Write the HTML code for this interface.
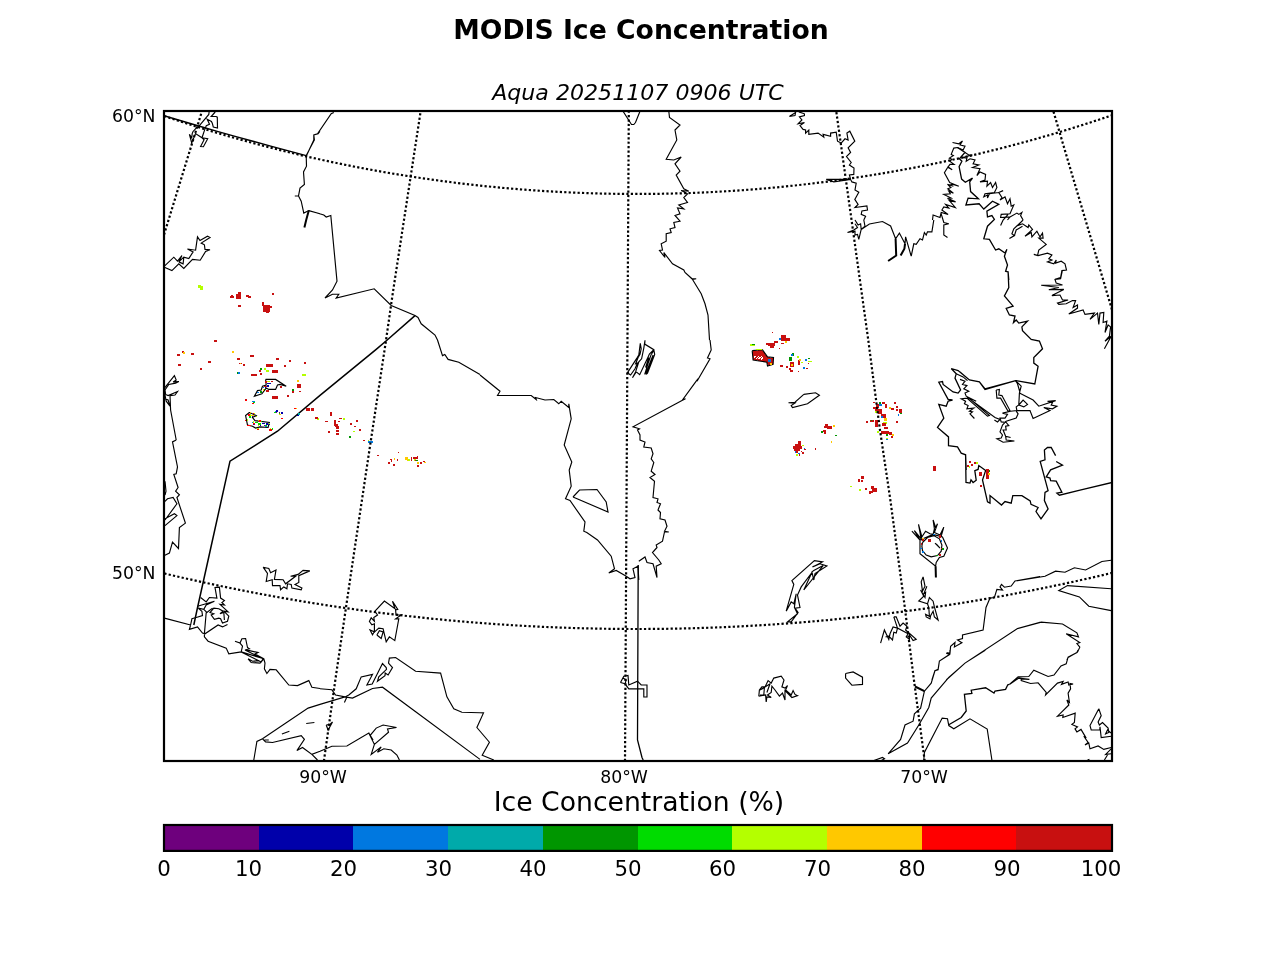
<!DOCTYPE html>
<html lang="en"><head><meta charset="utf-8"><title>MODIS Ice Concentration</title>
<style>
html,body{margin:0;padding:0;background:#fff;}
body{width:1280px;height:960px;overflow:hidden;font-family:"DejaVu Sans","Liberation Sans",sans-serif;}
svg{display:block;}
text{font-family:"DejaVu Sans","Liberation Sans",sans-serif;fill:#000;}
.c{fill:none;stroke:#000;stroke-width:1.15;stroke-linejoin:miter;stroke-linecap:butt;}
.b{fill:none;stroke:#000;stroke-width:1.5;stroke-linejoin:miter;stroke-linecap:butt;}
.q{fill:none;stroke:#000;stroke-width:1.3;stroke-linejoin:miter;stroke-linecap:butt;}
.k{fill:none;stroke:#000;stroke-width:2;stroke-linejoin:miter;stroke-linecap:butt;}
.g{fill:none;stroke:#000;stroke-width:2.2;stroke-dasharray:2.22 2.22;}
</style></head><body>
<svg width="1280" height="960" viewBox="0 0 1280 960">
<rect x="0" y="0" width="1280" height="960" fill="#fff"/>
<defs><clipPath id="ax"><rect x="164" y="111" width="948" height="650"/></clipPath></defs>
<g clip-path="url(#ax)">
<g shape-rendering="crispEdges">
<path fill="#c81010" d="M752.8,351 L762.2,350.1 L767.2,357.1 L773.1,357.9 L772.8,364.1 L767.8,365.6 L767.1,362 L753.4,359.8Z"/>
<path fill="none" stroke="#fff" stroke-width="1.2" d="M756.2,358.8 L759.4,355.6 M758.8,359 L761.9,356 M761,359.8 L763.1,357.5 M754.4,357.5 L755.6,356"/>
</g>
<path class="c" d="M209.1,112 L208.8,114.4 L198.8,126.3 L195.9,128.4 L192.9,131.7 L192.2,133.6 L191.7,137.8 L189.4,134.3 L191.7,143 L195.5,133.6 L202,137.8 L204.8,129.4 L206.3,125.6 L209.5,124.2 L207.2,119.3 L211.4,121.4 L212.3,123.3 L213.3,127 L217.5,128 L217.3,117.2 L216.1,116.5 L211.2,116.5 L215.2,112 M202,137.8 L207.7,138.8 L203.4,146.7 L200.6,146.5 L204.1,139.7 L202,137.8 M320,131.2 L318.1,133.8 L313.8,135 L314.4,140 L306.2,155.6 L306.5,166.2 L303.5,171.9 L304.4,184.4 L300,188.1 L298.5,196 L301.2,201.2 L303.8,213.1 L308.8,210.6 L320,213.8 M294.8,196 L298.5,196 M164.4,266.2 L173.8,257.2 L177.5,261.2 L181.9,255.6 L178.8,261.9 L183.8,257.2 L188.8,258.5 L193.1,251.9 L187.5,249 L195.6,250.2 L197.5,236.9 L200,240.6 L207.5,236.2 L210,237.5 L201.2,243.1 L204.4,244.8 L205,249.4 L210,249.8 L205.6,251.5 L200.2,260.2 L192.5,259.4 L183.8,268.5 L178.8,263.8 L171.9,270.6 L164.4,267.2 M178.8,261.9 L183.1,263.8 L183.8,257.5 M333.8,112.5 L331.2,113.8 L317.5,133.8 L313.8,135 L313.8,140 L306.2,156.2 M308.8,210.5 L323.8,215 L326.2,217 L330.8,215.5 L337,281.2 L332.5,290 L325,298 L332.5,294.2 L338.8,294.2 L336.2,298 L374.2,288.8 L391.2,305.5 L415,315.5 L418,317.5 L421.2,323.8 L435,335 L437.5,340 M668.8,111.2 L669.5,117.5 L680,125 L675,130 L676.8,140 L666.2,159.2 L673.8,160 L681.2,157 L675,163.8 L680,171.2 L676.2,175 L683.8,188.8 L688.8,191.2 L681.2,190.5 L687.5,193.8 L683.8,197.5 L687.5,202.5 L678.8,205 L683.8,208.8 L677.5,208 L680,213.8 L675,215.5 L680,221.2 L673.8,222.5 L675,227.5 L670,228.8 L671.2,232.5 L666.2,233.8 L666.2,241.2 L661.2,243.8 L662.5,250 L659.5,250.5 L665,257.5 L663.8,252.5 L672.5,263.8 L683.8,270 L685,272.5 L692,278.8 L696.2,278.8 L692.5,279.5 L701.2,293.8 L705,303.8 L708,315 L709.5,340 M623,111.2 L631.5,124.5 L633.8,124.5 L635.5,122.5 L640,111.2 M789.4,116.5 L795.6,112.5 L795,115.6 L789.4,116.5 M798.8,111.9 L804.4,113.8 L804.4,115.6 L799.4,116.9 L801.9,120 L798.1,123.8 L804.4,122.5 L800,125.6 L803.1,129.4 L805.6,130 L805.6,133.1 L808.8,130 L808.8,134.4 L818.1,133.1 L823.8,137.2 L823.1,134.4 L830.6,136.2 L830.6,133.1 L836.2,132.2 L837.5,141.2 L841.2,143.1 L845,138.8 L848.1,140 L846.9,133.1 L849.8,131.2 L854.8,141.2 L848.1,147.8 L850.6,152.5 L846.5,156.5 L851.2,162.5 L849.4,165 L854,168.1 L853.8,174.4 L849.4,175 L850.6,179.4 L851.9,181.9 L856.2,183.1 L855,190 L858.8,192.2 L854.8,199.4 L858.1,204.4 L855,207.5 L866.9,205.9 L867.5,210 L861.9,211 L861.2,214.4 L865.6,216.2 L863.8,220 M826.2,179.4 L833.8,181.9 L850.6,179.4 L826.2,179.4 M952.5,142.5 L958.8,143.8 L962.5,141 L960,145 L965,146.2 L963.1,150 L957.5,147.5 L953.8,148.1 L952.5,151.2 L951.2,154.4 L953.4,155.6 L949.4,158.1 L951.9,159.4 L949.7,161.2 L954.1,164.4 L950,164.4 L948.1,166.9 L952.2,169.7 L947.8,167.2 L944.4,172.8 L949.7,182.5 L958.8,186.2 L952.5,184.1 L950.3,185 L953.4,186.2 L947.5,184.4 L950.9,187.5 L947.8,188.8 L953.4,193.1 L948.8,191.2 L950.3,193.8 L943.8,194.4 L951.2,198.1 L947.5,198.4 L955.6,201.9 L949.4,200.6 L955.3,207.5 L945.6,204.4 L948.8,208.1 L943.8,206.9 L941.9,210 L948.1,214.4 L941.2,212.5 L940,217.5 L933.1,215 L932.5,220 M965,152.5 L968.8,155 L972.5,155 L962.5,157.5 L966.9,158.1 L966.2,161.2 L970,158.8 L975,160 L973.1,163.8 L978.8,165 L972.5,167.5 L980,168.8 L976.9,175.6 L980,171.9 L985.6,174.4 L985,180 L980,181.9 L987.5,181.2 L986.9,186.2 L990.6,182.5 L992.5,187.5 L995.6,182.5 L996.9,187.5 L994.4,192.5 L985,193.8 L983.8,196.9 L987.5,195 L987.5,198.1 L989.4,193.8 L998.8,192.5 L1003.1,190.6 L998.8,192.5 L1001.9,197.5 L1000,200 L1005,196.9 L1007.5,203.8 L1010,198.8 L1011.2,206.2 L1013.8,205 L1010,213.8 L1001.2,214.4 L1000.6,217.5 L1010,216.9 L1007.5,220 M1010,216.9 L1016.9,213.1 L1018.8,214.4 L1021.9,212.5 L1020.6,215.6 L1023.1,220 M863.8,220 L865,226.2 L861.2,229.4 L860.6,223.8 L858.1,225 L855,220 M861.2,229.4 L869.4,224 L882.5,221.5 L890.6,226 L895.6,238.8 L899.4,233.1 L905,243.8 L905.6,236.9 L911.2,256.2 L913.8,243.8 L916.2,244.4 L920,238.8 L922.5,240 L924.4,232.5 L926.2,235 L927.5,231.9 L931.9,231.9 L933.8,220 M861.2,229.4 L858.8,239.4 L857.5,234.4 L855,235 L855,231.2 L847.5,232.5 L853.8,230 L857.5,227.5 L855,223.8 M1023.1,220 L1017.5,225.6 L1022.5,223.8 L1028.1,227.5 L1028.8,225 L1032.5,229.4 L1025,236.2 L1031.2,232.5 L1031.9,236.9 L1036.9,231.2 L1040,236.9 L1042.5,233.1 L1043.1,238.1 L1038.8,238.1 L1046.2,244.4 L1038.8,250 L1037.5,255.6 L1033.8,254.4 L1038.1,255.6 L1047.5,253.1 L1051.9,255 L1048.8,258.8 L1051.9,260 L1047.5,261.9 L1053.8,263.8 L1056.2,260 L1055.6,263.1 L1061.2,261.2 L1065,263.8 L1066.5,270 L1061.9,270.6 L1060.6,277.5 L1055,279.4 M1020.6,222.5 L1013.8,228.8 L1011.9,233.8 L1014.4,235.6 L1009.4,238.5 L1014.4,235.6 L1016.2,230 L1022.5,226.2 M1008.1,214.4 L1003.1,220 L1000.6,225.6 M1062.5,270 L1060.6,278.8 L1055,279.4 L1056.2,283.1 L1062.5,285 L1041.2,285.2 L1058.8,287.5 L1048.8,289.8 L1063.8,289.4 L1051.9,295.6 L1060,295 L1062.5,300 L1068.1,300 L1057.5,303.1 L1058.8,304.4 L1066.2,303.8 L1072.5,300.6 L1075.6,300.6 L1073.1,307.5 L1077.5,305 L1077.5,308.1 L1068.8,314 L1083.1,310 L1085,314.4 L1094.4,313.1 L1090,319.4 L1097.5,313.1 L1098.8,324.4 L1100,313.1 L1103.8,312.5 L1103.1,322.5 L1106.9,321.2 L1105,332.5 L1108.1,325 L1110.6,326.9 L1109.4,336.2 L1105,341.2 L1111.2,336.2 L1104.4,348.8 M941.2,213.8 L943.8,222.5 L948.8,223.8 L943.8,225 L943.8,235 L947.5,237.5 M164.4,388.1 L174.4,375.6 L176.2,380 L173.1,381.9 L178.8,381.5 L175.6,383.1 L168.8,384.4 L165,390 L165.6,394.4 L168.1,395.6 L177.5,391.5 L175,395 L170,395.6 L170.6,410 L176.2,440 M165,395 L166.2,401.2 L170,406.2 L168.1,400 L165,398.8 M265.6,379.4 L275.6,379.4 L286.2,386.2 L280,384.4 L277.5,385 L275.6,389.4 L268.8,389.4 L266.2,388.1 L261.9,393.8 L254.4,396.2 L257.5,390.6 L261.2,390 L262.5,386.2 L266.2,385 L265.6,379.4 M249.4,412.5 L256.2,415.6 L252.5,417.5 L255,420.6 L269.4,422.5 L268.1,427.5 L260,426.9 L255.6,428.1 L252.5,426.2 L247.5,425 L245.6,415.6 L249.4,412.5 M437.5,340 L442.5,355.6 L444.8,354.4 L448.1,359.4 L458.8,362.2 L480,374.4 M480,375 L500,391.2 L497.5,395.5 L531.2,395.5 L536.2,399.5 L535.5,397.5 L545,400 L553.8,399.5 L558.8,403.8 L561.2,401.2 L568.8,407.5 L568.8,403.8 L571.2,418.8 L564.2,445 L571.8,462 L569.2,470 L571.2,486.2 L565.5,498.8 L570,500.5 L585,522 L583.8,531.2 L586.8,532.5 L597.5,540 L611.2,556.2 L614.5,568.8 L608.8,573 L616.2,570.5 L625,575.5 L630,578.8 L635,577.5 L633,568.8 L638,566.2 L638.8,580 M638.8,561.2 L645,557 L647,562.5 L653,563.8 L657,577.5 L656.2,566.2 L661.2,563.8 L658.8,560 L652.5,552.5 L657,547.5 L656.2,545 L662.5,541.2 L664.5,532 L668.8,532 L664.5,531.2 L667,526.2 L665,520 L660,518.8 L660.5,512.5 L658,510 L660.5,503.8 L657,502.5 L658,498.8 L653,497.5 L654.5,481.2 L650,477.5 L655,474.5 L651.2,471.2 L653.8,462.5 L651.2,458.8 L653,453.8 L651.2,448 L643.8,447 L645,442 L640,440 L640,435 L637.5,430 L639.5,428.8 L633,426.8 L682,400.5 L685.5,398.8 L682.5,400 L696.2,381.2 L698,378.8 L697,381.2 L710,358.8 L707.5,358 L711.2,350 L710,340 M573,497 L579.5,490 L597,489.5 L606.2,502 L608,512 L573,497 M627.2,373.1 L636.9,358.1 L638.8,355 L640.3,343.4 L641.2,348.8 L640,354.4 L638.1,357.5 L635.6,363.8 L637.5,363.1 L635,368.8 L630.6,375 L628.8,373.8 L628.1,371.9 L627.2,373.1 M645,340.3 L644.7,344.1 L653.8,349.7 L649.4,354.1 L648.1,356.9 L639.7,374.7 L636.2,371.9 L632.5,377.8 L635.6,371.9 L638.8,361.9 L641.6,358.8 L643.8,348.1 L645,340.3 M653.8,349.7 L654.7,354.4 L647.5,373.1 L646.2,374.4 L650,365 L653.1,355 L650.6,361.2 L646.9,370.6 L644.7,374.4 L648.8,361.2 L651.2,354.4 L653.8,350.6 M648.8,357.5 L645.6,367.5 L647.5,365 L650,358.1 M752.2,350.6 L762.5,349.8 L767.5,356.9 L773.5,357.5 L773.1,364.4 L767.5,366 L766.9,362.2 L753.1,360 L752.2,350.6 M803.8,394.4 L815.6,392.8 L819.4,395.2 L807.5,403.8 L792.5,407.5 L791.2,405.6 L795,403.1 L788.5,402.8 L795,402.2 L803.8,394.4 M956.2,373.8 L963.1,376.9 L967.5,380.6 M960,379.4 L965,381.2 L962.5,384.4 L966.9,385.6 L963.8,388.8 L968.8,391.2 L965,393.1 L966.2,396.2 L976.2,401.2 L967.5,396.9 L989.4,415.6 L987.5,416.2 L966.9,398.1 L961.2,398.8 L965.6,401.2 L964.4,403.8 L968.1,405.6 L966.9,408.8 L973.8,408.1 L969.4,411.2 L972.5,411.9 L970,413.8 L974.4,418.5 M966.9,396.9 L995,417.5 L1000,419.4 L997.5,421.9 L994.4,420 M996.2,390 L999.4,389.4 L998.8,395 L1001.9,395.6 L1010,410.6 L1008.1,411.2 L1000.6,398.1 L996.9,398.1 L996.2,390 M1015.6,380.6 L1021.2,386.2 L1019.4,393.1 L1018.8,405 L1016.2,406.9 L1016.9,410.6 L1010.6,411.2 L1002.5,413.1 L1007.5,414.4 L1005,418.1 L1000,418.1 L1001.2,421.9 L1006.2,422.5 L1008.8,425.6 L1005.6,426.2 L1006.2,430 L1003.1,430 L1005.6,436.2 L1010.6,437.5 L1005.6,436.2 L1006.2,440 L1014.4,441 L1003.1,442.2 L996.9,438.8 L1001.2,438.1 L1002.5,435 L1000,431.9 L1002.5,425 L1006.2,421.2 L1016.2,418.1 L1018.1,413.8 L1016.2,411.2 M1019.4,393.1 L1033.1,400 L1038.8,406.2 L1055.6,400.6 L1047.5,401.2 L1052.5,402.5 L1051.2,405 L1056.9,406.2 L1052.5,408.8 L1043.8,407.5 L1050,410.6 L1033.1,418.5 L1030,410.6 L1016.9,410.6 M1018.8,405 L1023.1,400.2 L1027.5,404.4 L1023.8,406.9 L1018.8,405 M1015.6,380.6 L1017.5,383.8 L1020,392.5 M920,540 L933.1,534.4 L942.5,536.9 L947.5,548.1 L943.8,556.2 L939.4,557.5 L936.2,562.5 L935.6,566.2 L920,553.8 L920,540 M922.5,542.5 L927.5,537.5 L933.8,535.6 L939.4,538.8 L941.9,545 L941.2,551.2 L937.5,555.6 L931.2,556.9 L926.2,555 L922.5,550.6 L921.9,546.2 L922.5,542.5 M911.9,531.2 L920,540 L914.4,530.6 L921.2,538.8 L918.5,524.4 L921.9,536.9 L925.6,531.2 L930,533.8 L933.1,534.4 L934.4,528.8 L933.1,520 L935.6,527.5 L937.5,523.8 L934.4,532.5 L940,535 L943.8,527.2 L941.2,536.2 M935,543.1 L940,548.1 L936.2,543.8 M176.2,440 L172.5,441.9 L177.5,466.9 L176.2,473.8 L173.8,474.4 L178.1,487.5 L175.6,491.2 L179.4,494.8 L176.9,497.5 L185.4,523.1 L179.4,527.5 L178.5,548.5 L172.5,542.2 L169.4,553.1 L164.4,555.6 M164.4,501.9 L167.5,498.8 L173.1,497.5 L176.9,503.8 L165,520 M165,518.8 L174.4,513.8 L176.9,515.6 L165,525.6 M165,481.2 L166,491.2 L165,495 M164.4,618.1 L190.6,625 M190.6,625 L189.4,629.4 L197.5,626.9 L202.5,633.1 L205,633.8 L218.1,625 L222.5,626.9 L227.5,624.4 M204.4,633.8 L204.4,636.9 L208.1,641.2 L226.2,648.1 L228.8,653.8 L241.2,651.9 M200.6,597.5 L206.2,601.9 L209.4,597.5 L216.9,598.1 L215,587.5 L219.4,587.2 L220.6,598.1 L224.4,600.6 L221.9,602.5 L224.4,605 L220,604.4 L228.1,611.9 L223.8,611.2 L228.8,616.2 L227.5,621.2 L222.5,623.1 L220.6,618.8 L218.8,618.1 L214.4,619.4 L211.2,615 L213.8,613.8 L210,612.5 L213.8,608.1 L218.8,608.8 L223.1,611.2 L220,613.8 L223.8,612.5 L224.4,620 M197.5,606.2 L214.4,601.2 L206.2,605 L203.8,609.4 L198.1,608.1 L201.9,611.2 L202.5,615.6 L196.2,617.5 L191.9,618.8 L190.6,625 M206.2,612.5 L204.4,633.8 M203.8,609.4 L206.9,612.5 L212.5,608.1 M263.1,567.2 L268.8,568.5 L270.6,572.8 L276,570 L274.4,579.4 L283.1,579.8 L285.6,583.8 L295.6,576.2 L290.6,576.2 L298.1,574.4 L303.1,570.4 L309.8,570.9 L298.8,575.6 L298.8,582.5 L295,584.4 L301.9,588.1 L301.2,589.8 L291.9,588.1 L291.2,584.4 L287.5,583.8 L286.9,588.8 L283.8,586.9 L280.6,589.8 L280,585.6 L272.5,585.6 L272.2,579.8 L266.2,581.5 L267.5,573.5 L263.1,567.2 M235,641.2 L240,643.1 L241.9,638.8 L245.6,638.5 L247.5,647.5 L249.4,648.8 L245,650 L249.4,650.6 L258.1,652.5 L255,654 L263.8,658.8 M240,643.1 L242.5,646.2 L241.2,651.9 M241.2,651.9 L263.8,658.8 L265,663.1 L264.4,668.8 L266.9,673.5 L270,669.4 L276.2,669.8 L288.8,685 L297.5,685.6 L308.8,680.6 L311.9,687.2 L320,688.5 M241.2,651.9 L261.2,661.9 L263.1,658.8 L245,650 M263.8,658.8 L260,663.1 L251.2,662.5 L248.1,658.8 L252.5,661.2 L258.8,660.6 M253.8,760 L256.9,741.5 L262.5,738.8 L308.1,708.1 L320,704.4 M262.5,738.8 L265.6,741.9 L272.5,742.5 L301.2,735.6 L304.4,739.4 L296.9,750.6 L302.5,747.5 L311.9,754.4 L320,751.2 M311.9,754.4 L317.5,760 M281.9,734 L289.4,731.2 M306.2,723.5 L314.4,722.5 M264.4,740 L268.8,740 M375,611.2 L384.4,601 L395,608.8 L392.5,601.2 L397.8,609.4 L395.6,610 L396,615 L401.2,615 L395.6,618.8 L398.8,618.8 L394.8,640.6 L389.4,636.9 L386.2,641.9 L383.1,628.8 L378.8,628.1 L373.8,632.5 L372.5,634.8 L370,630 L374.4,631.9 L374.4,623.8 L371.9,624.8 L369.4,621.5 L371.2,617.8 L374.4,621.2 L373.8,617.5 L377.5,615 L375,611.2 M376.9,635 L379.4,630.6 L383.1,631.9 L381.2,638.5 L376.9,635 M320,688.8 L331.9,689.8 L335.6,695 L345,696.9 L348.8,695 L356.2,688.8 L361.2,676.9 L372.5,674.4 L366.9,685 L372.2,684 L382.5,663.5 L386.2,667.5 L386.5,669.4 L378.8,676.9 L377.5,681.2 L385,675.6 L385.2,673.1 L388.1,675 L392.5,667.5 L388.5,663.1 L389.4,658.1 L395.6,657.5 L415.6,671.2 L440.6,673.1 L446.9,696.9 L453.8,708.8 L461.9,712.2 L480,712.8 M320,704.4 L345,696.9 L352.5,698.1 L372.5,688.5 L382.5,687.2 L480,759.4 M346.9,696.9 L344.4,702.5 M326.2,725 L330,724.4 L332.5,721.9 L328.1,730 L326.2,725 M320,751.2 L331.9,746.2 L346.9,746 L368.8,733.1 L374.4,744.4 L388.5,732.2 L387.5,729 L396.5,727.5 L383.1,725 L376.2,728.1 L370,735.6 L373.1,740 L368.8,733.1 M374.4,744.4 L371.2,754.4 L381.2,746.9 L377.5,752.2 L383.8,748.8 L391.2,750 L396.9,755 L399.4,760 M620.5,682.5 L623.8,676.2 L628,675.5 L628.8,685 L637.5,681.2 L641.2,685 L647,685 L647,697 L643.8,697 L643.8,688.8 L628.8,688.8 L625,683.8 L620.5,682.5 M623,678 L626.2,680 L625,683.8 M480,712.8 L483.5,712.9 L476.9,727.5 L489.4,742.2 L482.2,755.2 L493.8,760 M758.8,696.2 L759.4,690 L761.9,686.9 L765,686.9 L768.1,680.6 L771.2,683.1 L773.8,678.1 L781.2,676.2 L784,680 L781.9,686.9 L785,688.1 L787.5,685.6 L785.6,690 L791.2,695 L793.1,690.6 L795,694.4 L797.5,695.6 L791.9,697.5 L785,690.6 L785,700 L782.5,693.1 L779.4,696.2 L775,690 L771.9,686.2 L771.2,692.5 L767.5,695 L771.2,697.5 L766.9,696.9 L766.2,701.9 L765.6,695 L758.8,696.2 M760,690 L764.4,687.5 L763.8,695 L760,695 M765,686.9 L770,683.8 L766.9,692.5 M845.6,673.5 L853.1,671.9 L862.5,677.2 L862.5,684.4 L851.9,685.2 L845.6,678.1 L845.6,673.5 M786.2,611.2 L793.8,584.4 L791.9,580.6 L814.4,560.6 L822.5,561.9 L812.5,566.9 L820,563.8 L826.9,566 L815,573.5 L813.8,580 L811.9,571.9 L813.8,570.6 L823.1,565.6 L803.8,590 L811.9,572.5 L801.2,586.9 L797.5,595 L800,607.5 L795,608.1 L798.1,612.5 L791.2,621.9 L787.5,621.9 L797.5,613.8 L794.4,607.5 L796.2,593.8 L793.8,603.8 L791.2,601.9 L786.2,611.2 M923.1,576.9 L921.2,581.9 L922.5,591.2 L925,586.2 L923.1,576.9 M926.9,586.2 L923.8,593.8 L925.6,592.5 L925,597.5 L920.6,590 L923.8,596.2 L918.8,601 L927.5,603.8 L929.4,597.5 L933.1,601.2 L934.4,606.9 L938.1,620 L934.4,616.9 L933.1,611.2 L930.6,615.6 L930,618.8 L926.2,616.9 L925.6,614.4 L929.4,616.2 L928.8,607.5 L927.5,603.8 M880.6,643.1 L884.4,630 L888.8,639.4 L890,633.8 L893.1,626.9 L897.5,628.1 L896.2,633.1 L893.8,632.2 L892.5,640 L888.8,636.2 L885.6,636.9 M893.8,616.9 L896.2,616.9 L900,626.2 L903.1,623.1 L906.9,626.2 L905.6,630 L916.2,639.4 L913.1,640.6 L909.4,635 L909.4,639.4 L906.2,636.9 L908.1,633.8 L897.5,628.1 L893.8,616.9 M931.9,680 L935,670.6 L938.1,669.8 L939.4,661 L949.4,654.4 L946.9,652.8 L950,653.1 L950.6,646.2 L955,642.5 L954.4,646.9 L961.9,642.8 L957.5,640 L962.5,638.5 L962.5,635 L983.1,630 L986,607.5 L990,598.1 L994.4,597.5 L996.9,589.4 L1002.5,590 L1000,586.9 L1001.5,584.4 L1004.4,587.2 L1011.2,586 L1015,581 L1040,576.5 M946.2,680 L965,663.1 L1017.5,628.5 L1040,622.2 M1015,581 L1045,576.2 L1055.6,571.2 L1065,572.2 L1074.4,567.8 L1085.6,570 L1101.9,561.5 L1111.2,560.2 M1111.2,588.8 L1067.5,585.6 L1058.8,590.6 L1079.4,596.9 L1088.8,606.2 L1111.2,610.6 M1018.1,628.5 L1041.2,622.2 L1062.5,624 L1076.9,632.8 L1078.5,636.9 L1066.2,633.8 L1079.8,642.5 L1076.9,643.5 L1079.8,647.2 L1077.5,652.2 L1068.1,657.5 L1066.9,660 M950,650 L949.8,654.4 L939.4,661 L938.1,669.4 L935,670.6 L931.2,683.1 L924.4,691.2 L920.6,708.1 L914.4,713.8 L913.1,721.2 L905,725 L900.6,739.4 L888.1,753.8 M946.2,653.1 L949.8,654.4 M985.6,650 L965,663.1 L948.8,677.5 L931.2,698.1 L928.8,707.5 L918.8,725 L907.5,743.1 L888.1,753.8 M923.8,760 L924.4,752.5 L942.2,718.1 L947.5,718.8 L948.8,725.6 L953.8,728.8 L970,718.8 L987.2,729 L991.9,760 M1078.1,650 L1076.9,652.5 L1068.1,657.2 L1066.2,663.8 L1061,666 L1054,675 L1048.1,676.5 L1033.8,670.2 L1028.8,676.5 L1018.1,676.9 L1009.4,684.4 M1009.4,684.4 L1018.8,678.1 L1029.4,679.4 L1021.2,679 L1021.2,680.6 L1030.6,683.5 L1038.1,682.8 L1046.2,692.5 L1045.6,695 L1057.5,683.1 L1063.1,681.5 L1061.5,684.4 L1068.1,681.9 L1068.8,685 L1073.1,684 L1070,683.5 L1070.6,688.8 L1068.1,693.1 L1069.4,702.5 L1066.9,700 L1068.8,705 L1057.5,716.2 L1063.1,715 L1062.8,717.5 L1075.2,713.1 L1074.4,722.5 L1071.9,724.4 L1077.5,726.9 L1075,728.8 L1076.9,731.9 L1081,729.4 L1086.2,738.1 L1083.8,736.2 L1088.1,742.5 L1085,745 L1088.8,743.1 L1090,748.8 L1098.1,746 L1103.8,749.4 L1111.2,747.5 M1098.8,708.8 L1101.2,715.6 L1098.1,721.9 L1099.4,725 L1102.5,722.5 L1108.1,728.1 L1108.8,732.5 L1105.6,733.8 L1107.5,730 L1111.2,733.1 M1098.8,708.8 L1090,725.6 L1091.2,730 L1099.8,730 L1100,726.9 L1101.2,737.5 L1111.2,736.2 M1111.2,748.8 L1105.6,754.4 L1111.2,753.8 M1107.5,755 L1104.4,760 M1087.5,760 L1089.4,759.4 M872.5,761 L882.5,757.5 L884.5,758.8 L880.5,761"/>
<path class="b" d="M164,115.6 L181.8,121 L199.6,126.2 L217.3,131.4 L235.1,136.4 L252.9,141.3 L270.7,146.1 L288.5,150.9 L306.2,155.6 M415,315.6 L387.2,340 L376.2,349.4 L320,395.4 L277.5,431.2 L230,461.2 L208.1,560 L197,610 L193.8,625"/>
<path class="q" d="M957.5,147.5 L965,152.5 L959.4,158.8 L961.9,161.2 L959.1,166.6 L961.6,179.1 L965.3,182.2 L972.5,178.1 L969.7,181.9 L970.6,191.6 L978.4,198.8 L968.1,198.1 L965.9,205 L979.1,203.8 L983.8,209.1 L992.5,201.2 L998.8,204.4 L986.9,211.2 L987.5,216.9 L991.9,215.6 L994.4,219.4 L987.5,226.2 L983.8,238.8 L989.4,239.4 L995.6,250 L998.8,248.8 L1005,253.1 L1006.9,249.4 L1004.4,256.2 L1007.5,265 L1005.6,271.2 L1008.1,271.9 L1008.8,280 M1008.1,271.9 L1008.8,287.5 L1004.4,296 L1013.1,306.2 L1006.2,308.5 L1009.4,315 L1015,316 L1013.5,322.5 L1016.2,320 L1018.8,323.1 L1027.5,321.2 L1021.9,326.9 L1022.5,330.6 L1031.2,339.4 L1039.4,341 L1042.5,348.8 L1033.8,357.5 L1033.8,363.1 L1038.1,366.2 L1034.8,384 L1015.6,380.6 L985,388.8 L979.4,381.9 L969.4,380 L960,371.9 M951.2,368.5 L956.2,373.8 L955,378.1 L960.6,390 L958.1,393.1 L953.1,391.9 L943.1,384.4 L942.5,381.5 L938.8,382.2 L948.1,399.4 L952.5,400 L948.1,401.2 L946.2,406.2 L938.8,404.4 L943.8,418.1 L937.5,427.5 L948.5,436.9 L948.5,445.6 L957.5,446.9 L961.2,453.1 L965.6,454.8 L966.2,470 M951.2,368.5 L958.1,370.6 L969.4,380 L979.4,381.9 L985,389.4 L1015.6,380.6 L1035,383.8 M948.5,440 L948.5,445.6 L957.5,446.9 L961.2,453.1 L965.6,454.8 L966,482.5 L970,483.1 L971,479.8 L973.1,482.5 L976.2,480.2 L974.8,470.6 L978.1,469.4 L978.8,465.6 L985.6,470.6 L982.5,480 L987.5,501.9 L990,503.1 L990,495.6 L1001.5,505 L1005,501.5 L1011.2,503.1 L1012.8,495.6 L1021.9,495.6 L1030.2,501 L1031,504.4 L1038.1,507.5 L1036,511.5 L1041,518.8 L1048.1,509 L1044.4,500.6 L1045,492.5 L1048.1,490.6 L1040.2,461.5 L1045,459.8 L1044.4,450 L1047.5,447.5 L1051.2,447.5 L1055.6,455.6 M1056.2,461.5 L1062.5,465.2 L1050.6,469.8 L1046.2,476.9 L1050,478.1 L1050.6,480.6 L1056.2,481.2 L1061.9,492.2 L1056.9,493.1 L1059.4,495.2 L1080,490.2 M638.2,565 L637.5,740 L642,757.5 L643.2,760 M948.8,724.8 L961.2,717.5 L966.2,711 L964.4,694.4 L971.9,693.5 L971.2,690.2 L985.6,687.8 L994,693.1 L995,691 L1005.6,689.4 L1007.8,684.8 L1009.4,684.4 M1080,490.2 L1113,482.3"/>
<path class="k" d="M308.8,210.6 L306.2,220 M306.2,220 L304.4,227.5 M895.6,238.8 L896.2,255.6 L888.1,261 M905,243.8 L904.4,248.8 L900.6,255.6 M935.6,566.2 L935.9,577.5 M924.4,691.2 L915,686.5"/>
<g shape-rendering="crispEdges">
<path fill="#b4ff00" d="M198,285h3v3h-3z M200,286h3v4h-3z M264,368h2v2h-2z M266,370h3v2h-3z M302,374h4v2h-4z M317,418h2v2h-2z M353,431h2v1h-2z M343,418h2v2h-2z M750,344h5v2h-5z M797,356h2v2h-2z M801,362h2v1h-2z M808,361h4v1h-4z M756,349h6v1h-6z M969,466h1v2h-1z M976,462h2v2h-2z M875,411h3v2h-3z M883,422h4v2h-4z M850,486h2v1h-2z M859,489h2v2h-2z M877,431h2v2h-2z M886,438h2v1h-2z M408,459h2v2h-2z M414,459h2v2h-2z M368,440h1v2h-1z M802,445h2v1h-2z M796,454h2v2h-2z M268,381h2v1h-2z M268,391h1v1h-1z M263,389h1v1h-1z M250,414h1v2h-1z M254,413h1v1h-1z M247,419h1v2h-1z M256,416h1v1h-1z M257,428h2v1h-2z M270,428h1v1h-1z M253,421h1v2h-1z M269,423h1v1h-1z"/>
<path fill="#c81010" d="M230,296h4v2h-4z M231,295h2v1h-2z M236,294h5v5h-5z M238,292h3v2h-3z M246,295h3v2h-3z M248,296h3v2h-3z M272,293h2v2h-2z M238,305h3v2h-3z M262,302h2v4h-2z M263,305h7v7h-7z M265,306h7v2h-7z M266,311h3v2h-3z M214,340h3v2h-3z M177,354h3v2h-3z M182,351h2v2h-2z M191,353h3v2h-3z M178,364h3v2h-3z M208,361h3v2h-3z M200,368h2v2h-2z M237,358h3v2h-3z M250,355h4v2h-4z M239,363h3v1h-3z M243,364h2v2h-2z M276,358h3v2h-3z M289,360h2v2h-2z M284,365h2v2h-2z M304,362h2v2h-2z M266,364h7v3h-7z M259,370h2v2h-2z M260,373h2v2h-2z M272,370h6v3h-6z M251,374h6v2h-6z M297,384h4v4h-4z M280,386h2v2h-2z M292,391h2v2h-2z M299,391h2v1h-2z M287,395h2v2h-2z M272,396h6v3h-6z M266,390h3v2h-3z M245,399h2v2h-2z M306,408h4v3h-4z M311,408h3v3h-3z M315,417h3v2h-3z M330,412h2v4h-2z M325,421h3v1h-3z M334,420h2v6h-2z M335,424h3v3h-3z M336,426h3v3h-3z M339,418h3v1h-3z M338,421h2v1h-2z M350,423h2v2h-2z M354,426h2v1h-2z M356,420h2v2h-2z M359,429h2v2h-2z M328,431h2v2h-2z M336,430h3v2h-3z M336,433h3v2h-3z M363,440h2v1h-2z M377,455h2v1h-2z M398,452h1v1h-1z M390,459h2v1h-2z M413,457h5v2h-5z M781,335h5v6h-5z M785,338h5v3h-5z M768,343h7v3h-7z M770,346h4v2h-4z M774,341h4v2h-4z M781,343h3v1h-3z M772,332h1v1h-1z M779,348h1v1h-1z M780,365h3v2h-3z M786,366h2v2h-2z M790,362h4v5h-4z M789,368h2v2h-2z M790,370h3v2h-3z M798,360h2v5h-2z M798,371h1v1h-1z M808,363h1v1h-1z M806,368h2v1h-2z M766,343h2v2h-2z M826,424h2v2h-2z M824,426h2v2h-2z M826,426h6v2h-6z M829,428h2v1h-2z M866,421h2v1h-2z M875,420h3v7h-3z M933,466h3v5h-3z M969,461h2v2h-2z M971,464h2v2h-2z M974,462h2v2h-2z M979,472h3v4h-3z M986,469h3v10h-3z M980,485h2v2h-2z M967,465h2v2h-2z M873,402h2v1h-2z M876,404h3v4h-3z M873,407h3v2h-3z M875,409h7v2h-7z M878,411h4v3h-4z M881,414h5v4h-5z M882,402h3v2h-3z M885,404h2v4h-2z M891,408h3v2h-3z M894,402h2v2h-2z M896,406h2v2h-2z M896,409h2v2h-2z M899,409h3v4h-3z M875,420h3v7h-3z M870,420h4v2h-4z M866,421h2v2h-2z M896,421h2v2h-2z M882,423h4v3h-4z M884,427h4v2h-4z M881,431h8v3h-8z M889,432h3v3h-3z M891,436h2v2h-2z M825,424h3v2h-3z M827,426h5v3h-5z M823,430h3v2h-3z M824,432h2v2h-2z M815,448h1v2h-1z M933,466h3v5h-3z M858,479h2v3h-2z M861,476h3v3h-3z M861,480h2v2h-2z M865,488h2v2h-2z M871,486h3v3h-3z M872,488h5v4h-5z M869,491h4v2h-4z M869,492h2v2h-2z M922,539h2v2h-2z M928,539h3v3h-3z M939,535h2v3h-2z M939,554h2v2h-2z M941,548h2v1h-2z M921,543h1v2h-1z M980,485h2v2h-2z M391,460h1v2h-1z M388,462h2v2h-2z M393,464h2v2h-2z M417,465h2v2h-2z M420,462h2v2h-2z M423,461h2v1h-2z M415,460h3v1h-3z M411,457h1v4h-1z M417,456h1v2h-1z M397,459h1v2h-1z M798,441h3v3h-3z M795,444h6v2h-6z M793,446h9v3h-9z M794,449h6v2h-6z M796,451h2v2h-2z M801,451h1v1h-1z M802,452h2v2h-2z M799,453h1v3h-1z M804,449h2v1h-2z M815,448h1v2h-1z M265,381h2v2h-2z M264,386h3v1h-3z M266,390h2v2h-2z M271,381h2v1h-2z"/>
<path fill="#ffc800" d="M232,351h2v2h-2z M183,352h2v2h-2z M297,380h2v2h-2z M240,363h1v1h-1z M405,457h3v3h-3z M791,364h2v2h-2z M785,341h2v2h-2z M799,359h2v2h-2z M770,363h2v2h-2z M988,473h2v2h-2z M833,425h2v2h-2z M831,441h1v2h-1z M884,418h3v3h-3z M892,434h2v2h-2z M889,407h2v2h-2z M922,538h2v1h-2z M417,462h2v2h-2z M424,462h2v1h-2z M407,459h1v2h-1z M394,458h1v2h-1z M267,381h1v1h-1z M263,389h1v2h-1z M250,412h1v1h-1z M251,415h3v1h-3z M258,420h1v1h-1z M258,425h1v1h-1z M279,414h2v1h-2z M296,408h1v1h-1z"/>
<path fill="#009600" d="M260,368h2v2h-2z M237,372h2v2h-2z M292,389h2v2h-2z M349,436h2v2h-2z M789,357h3v4h-3z M792,353h2v3h-2z M808,358h2v1h-2z M752,344h3v1h-3z M989,470h1v2h-1z M879,402h2v2h-2z M821,431h2v2h-2z M835,435h2v1h-2z M900,413h2v1h-2z M886,434h2v2h-2z M871,420h1v1h-1z M942,548h2v2h-2z M936,555h2v1h-2z M416,460h2v1h-2z M368,441h2v1h-2z M260,391h2v2h-2z M264,389h1v1h-1z"/>
<path fill="#0078e0" d="M238,372h2v2h-2z M368,441h5v2h-5z M791,354h2v2h-2z M805,359h2v2h-2z M803,367h2v2h-2z M768,359h3v3h-3z M779,338h2v2h-2z M879,404h3v2h-3z M881,416h2v2h-2z M898,414h1v2h-1z M886,439h2v1h-2z M920,548h2v1h-2z M933,534h2v1h-2z M941,540h1v2h-1z M922,551h2v2h-2z M804,448h1v1h-1z M795,451h1v2h-1z M798,453h2v1h-2z M263,387h1v1h-1z M257,392h2v1h-2z M252,401h3v1h-3z M249,417h2v1h-2z M252,422h1v1h-1z M265,426h2v1h-2z M275,411h1v1h-1z"/>
<path fill="#0000aa" d="M267,383h4v1h-4z M267,385h2v2h-2z M265,387h1v1h-1z M252,416h1v1h-1z M262,423h3v1h-3z M266,423h2v2h-2z M260,425h1v1h-1z M276,410h2v2h-2z M281,412h2v2h-2z M269,424h1v1h-1z M297,415h2v1h-2z"/>
<path fill="#ff0000" d="M248,414h2v2h-2z M253,413h1v1h-1z M259,420h2v2h-2z M245,420h1v1h-1z M247,425h4v1h-4z M253,423h2v1h-2z M257,429h2v1h-2z M269,429h3v2h-3z M252,403h2v1h-2z M245,400h2v1h-2z M294,408h2v1h-2z M281,418h2v1h-2z"/>
<path fill="#00dc00" d="M249,416h2v2h-2z M258,423h3v2h-3z M255,422h3v1h-3z M265,425h2v1h-2z M274,412h2v1h-2z M279,413h1v1h-1z M272,428h1v2h-1z M253,402h2v1h-2z M261,421h1v1h-1z"/>
<path fill="#6e007d" d="M253,424h2v1h-2z M264,425h1v1h-1z M276,412h1v1h-1z M279,412h1v1h-1z"/>
<path fill="#00aaaa" d="M298,413h2v2h-2z"/>
</g>
<g class="g">
<path d="M160.0,114.6 A1473,1473 0 0 0 1116.0,113.9"/>
<path d="M160.0,572.4 A2038,2038 0 0 0 1116.0,571.9"/>
<path d="M2.4,761.0 L202.0,111.0"/>
<path d="M323.9,761.0 L335.6,678.1 L352.8,561.2 L368.1,458.8 L385.6,343.1 L393.1,291.0 L420.7,111.0"/>
<path d="M625.0,761.0 L628.8,111.0"/>
<path d="M924.7,761.0 L913.7,678.1 L903.7,598.8 L890.0,497.5 L879.8,428.8 L868.1,338.8 L851.4,219.0 L836.2,111.0"/>
<path d="M1245.3,761.0 L1053.3,111.0"/>
</g>
</g>
<rect x="164" y="111" width="948" height="650" fill="none" stroke="#000" stroke-width="2.2"/>
<text x="641" y="39" font-size="26.667" text-anchor="middle" font-weight="bold">MODIS Ice Concentration</text>
<text transform="translate(638 100) scale(0.995 0.93)" font-size="22.222" text-anchor="middle" font-style="italic">Aqua 20251107 0906 UTC</text>
<text transform="translate(155.5 121.6) scale(0.972 1)" font-size="17.778" text-anchor="end">60°N</text>
<text transform="translate(155.5 579) scale(0.972 1)" font-size="17.778" text-anchor="end">50°N</text>
<text transform="translate(323 783) scale(0.972 1)" font-size="17.778" text-anchor="middle">90°W</text>
<text transform="translate(624 783) scale(0.972 1)" font-size="17.778" text-anchor="middle">80°W</text>
<text transform="translate(924 783) scale(0.972 1)" font-size="17.778" text-anchor="middle">70°W</text>
<text x="639" y="811" font-size="26.667" text-anchor="middle">Ice Concentration (%)</text>
<g shape-rendering="crispEdges">
<rect x="164" y="825" width="95" height="25.9" fill="#6e007d"/>
<rect x="259" y="825" width="94" height="25.9" fill="#0000aa"/>
<rect x="353" y="825" width="95" height="25.9" fill="#0078e0"/>
<rect x="448" y="825" width="95" height="25.9" fill="#00aaaa"/>
<rect x="543" y="825" width="95" height="25.9" fill="#009600"/>
<rect x="638" y="825" width="94" height="25.9" fill="#00dc00"/>
<rect x="732" y="825" width="95" height="25.9" fill="#b4ff00"/>
<rect x="827" y="825" width="95" height="25.9" fill="#ffc800"/>
<rect x="922" y="825" width="94" height="25.9" fill="#ff0000"/>
<rect x="1016" y="825" width="96" height="25.9" fill="#c81010"/>
</g>
<rect x="164" y="825" width="948" height="25.9" fill="none" stroke="#000" stroke-width="2.2"/>
<text transform="translate(164 876) scale(0.96 0.93)" font-size="22.222" text-anchor="middle">0</text>
<text transform="translate(248.5 876) scale(0.96 0.93)" font-size="22.222" text-anchor="middle">10</text>
<text transform="translate(343.5 876) scale(0.96 0.93)" font-size="22.222" text-anchor="middle">20</text>
<text transform="translate(438.5 876) scale(0.96 0.93)" font-size="22.222" text-anchor="middle">30</text>
<text transform="translate(533 876) scale(0.96 0.93)" font-size="22.222" text-anchor="middle">40</text>
<text transform="translate(628 876) scale(0.96 0.93)" font-size="22.222" text-anchor="middle">50</text>
<text transform="translate(722.5 876) scale(0.96 0.93)" font-size="22.222" text-anchor="middle">60</text>
<text transform="translate(817.5 876) scale(0.96 0.93)" font-size="22.222" text-anchor="middle">70</text>
<text transform="translate(912 876) scale(0.96 0.93)" font-size="22.222" text-anchor="middle">80</text>
<text transform="translate(1007 876) scale(0.96 0.93)" font-size="22.222" text-anchor="middle">90</text>
<text transform="translate(1101 876) scale(0.96 0.93)" font-size="22.222" text-anchor="middle">100</text>
</svg>
</body></html>
